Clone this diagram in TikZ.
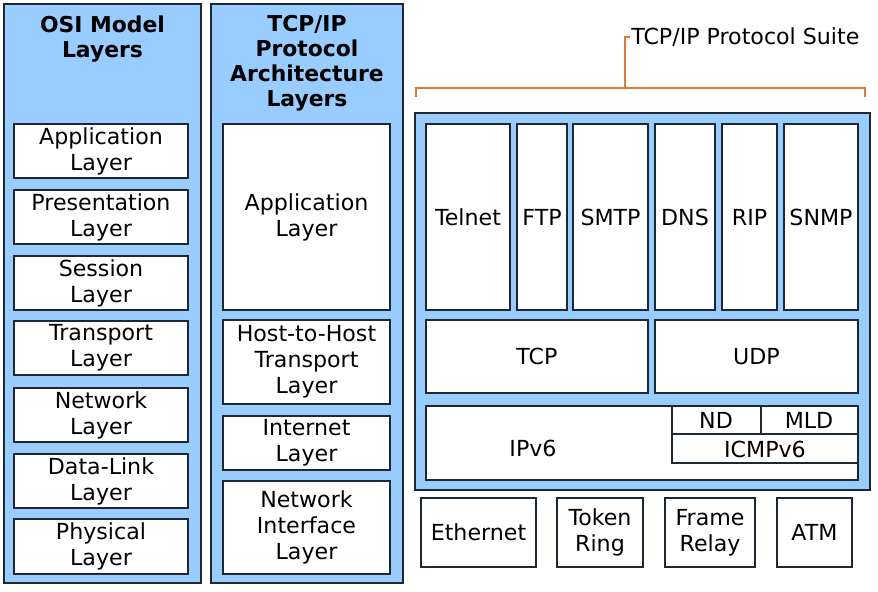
\documentclass[tikz,border=0pt]{standalone}
\usepackage{fontspec}
\setmainfont{DejaVu Sans}
\definecolor{lb}{RGB}{153,204,255}
\definecolor{edge}{RGB}{30,40,50}
\definecolor{org}{RGB}{220,120,60}
\begin{document}
\begin{tikzpicture}[x=0.75pt,y=-0.75pt,
  col/.style={draw=edge,line width=1.3pt,fill=lb},
  bx/.style={draw=edge,line width=1.1pt,fill=white},
  t/.style={font=\fontsize{16.6}{19.5}\selectfont,align=center,text=black,inner sep=0pt},
  h/.style={font=\bfseries\fontsize{16.4}{18.8}\selectfont,align=center,inner sep=0pt}]
\useasboundingbox (0,0) rectangle (878,592);
\newcommand\bx[6]{\draw[bx] (#1,#2) rectangle (#3,#4) node[t,midway] (#5) {#6};}
% columns
\draw[col] (4,4) rectangle (201,583);
\node[h] (osih) at (102.5,39) {OSI Model\\Layers};
\draw[col] (211,4) rectangle (403,583);
\node[h] (tcph) at (307,63) {TCP/IP\\Protocol\\Architecture\\Layers};
\bx{14}{124}{188}{178}{o1}{Application\\Layer}
\bx{14}{190}{188}{244}{o2}{Presentation\\Layer}
\bx{14}{256}{188}{310}{o3}{Session\\Layer}
\bx{14}{321}{188}{375}{o4}{Transport\\Layer}
\bx{14}{388}{188}{442}{o5}{Network\\Layer}
\bx{14}{454}{188}{508}{o6}{Data-Link\\Layer}
\bx{14}{519}{188}{574}{o7}{Physical\\Layer}
\bx{223}{124}{390}{310}{a1}{Application\\Layer}
\bx{223}{320}{390}{404}{a2}{Host-to-Host\\Transport\\Layer}
\bx{223}{416}{390}{470}{a3}{Internet\\Layer}
\bx{223}{481}{390}{574}{a4}{Network\\Interface\\Layer}
% bracket
\draw[org,line width=1.5pt] (416,97) -- (416,88) -- (865,88) -- (865,97);
\draw[org,line width=1.5pt] (625,88) -- (625,37) -- (630,37);
\node[t,anchor=west] (suite) at (631,37) {TCP/IP Protocol Suite};
% suite
\draw[col] (415,113) rectangle (870,490);
\bx{426}{124}{510}{310}{telnet}{Telnet}
\bx{517}{124}{567}{310}{ftp}{FTP}
\bx{573}{124}{648}{310}{smtp}{SMTP}
\bx{655}{124}{715}{310}{dns}{DNS}
\bx{722}{124}{777}{310}{rip}{RIP}
\bx{784}{124}{858}{310}{snmp}{SNMP}
\bx{426}{320}{648}{393}{tcp}{TCP}
\bx{655}{320}{858}{393}{udp}{UDP}
\draw[bx] (426,406) rectangle (858,480);
\node[t] (ipv6) at (533,448) {IPv6};
\draw[edge,line width=1.1pt] (672,406) -- (672,463) -- (858,463);
\draw[edge,line width=1.1pt] (672,434) -- (858,434);
\draw[edge,line width=1.1pt] (761,406) -- (761,434);
\node[t] (nd) at (716,420) {ND};
\node[t] (mld) at (809,420) {MLD};
\node[t] (icmp) at (765,449) {ICMPv6};
\bx{421}{498}{536}{567}{eth}{Ethernet}
\bx{557}{498}{643}{567}{tr}{Token\\Ring}
\bx{665}{498}{755}{567}{fr}{Frame\\Relay}
\bx{777}{498}{852}{567}{atm}{ATM}
\end{tikzpicture}
\end{document}
